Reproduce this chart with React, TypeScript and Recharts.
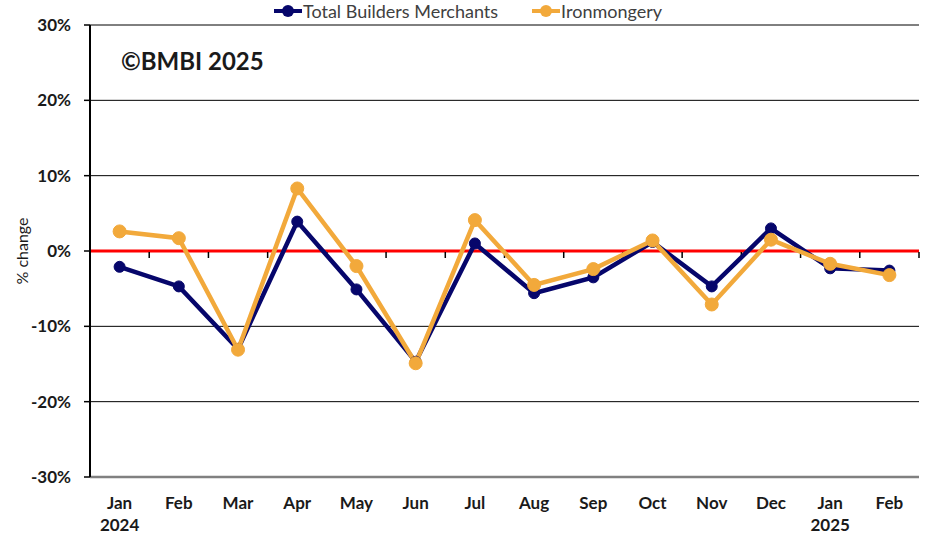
import React from 'react';
import { LineChart, Line, XAxis, YAxis, CartesianGrid, ReferenceLine } from 'recharts';

const months = ['Jan', 'Feb', 'Mar', 'Apr', 'May', 'Jun', 'Jul', 'Aug', 'Sep', 'Oct', 'Nov', 'Dec', 'Jan', 'Feb'];
const years = ['2024', '', '', '', '', '', '', '', '', '', '', '', '2025', ''];
const totalBuildersMerchants = [-2.1, -4.7, -13.0, 3.9, -5.1, -14.7, 1.0, -5.6, -3.5, 1.2, -4.7, 3.0, -2.3, -2.6];
const ironmongery = [2.6, 1.7, -13.1, 8.3, -2.0, -14.9, 4.1, -4.5, -2.4, 1.4, -7.1, 1.5, -1.7, -3.2];
const yTicks = [-30, -20, -10, 0, 10, 20, 30];

const NAVY = '#06066B';
const ORANGE = '#F2A93B';
const FONT = 'Lato, "Open Sans", sans-serif';

const data = months.map((m, i) => ({
  key: `${m}-${i}`,
  month: m,
  year: years[i],
  tbm: totalBuildersMerchants[i],
  iron: ironmongery[i],
}));

const XTick = (props: any) => {
  const { x, y, index } = props;
  const d = data[index];
  return (
    <g>
      <text x={x} y={y} dy={24} textAnchor="middle" fontFamily={FONT} fontWeight={700} fontSize={17} fill="#1a1a1a">
        {d ? d.month : ''}
      </text>
      {d && d.year ? (
        <text x={x} y={y} dy={46} textAnchor="middle" fontFamily={FONT} fontWeight={700} fontSize={17} fill="#1a1a1a">
          {d.year}
        </text>
      ) : null}
    </g>
  );
};

const YTick = (props: any) => {
  const { y, payload } = props;
  return (
    <text x={71} y={y} dy={6} textAnchor="end" fontFamily={FONT} fontWeight={700} fontSize={17} fill="#1a1a1a">
      {`${payload.value}%`}
    </text>
  );
};

const ZeroTicks = (props: any) => {
  const vb = props.viewBox || {};
  const n = data.length;
  const w = vb.width || 0;
  const marks = [];
  for (let i = 1; i <= n; i++) {
    const xx = vb.x + (w * i) / n;
    marks.push(<line key={i} x1={xx} x2={xx} y1={vb.y + 1} y2={vb.y + 7} stroke="#000" strokeWidth={1.5} />);
  }
  return <g>{marks}</g>;
};

const legendItems = [
  { label: 'Total Builders Merchants', color: NAVY },
  { label: 'Ironmongery', color: ORANGE },
];

const LegendBox = () => (
  <div
    style={{
      position: 'absolute',
      left: 0,
      top: 0,
      width: 936,
      display: 'flex',
      justifyContent: 'center',
      gap: 34,
      fontFamily: FONT,
      fontSize: 18,
      lineHeight: '22px',
      color: '#404040',
    }}
  >
    {legendItems.map((it) => (
      <div key={it.label} style={{ display: 'flex', alignItems: 'center' }}>
        <svg width={28} height={14} style={{ marginRight: 1 }}>
          <line x1={0} x2={28} y1={7} y2={7} stroke={it.color} strokeWidth={4} />
          <circle cx={14} cy={7} r={6} fill={it.color} />
        </svg>
        <span>{it.label}</span>
      </div>
    ))}
  </div>
);

export default function App() {
  return (
    <div style={{ position: 'absolute', left: 0, top: 0, width: 930, height: 536, background: '#fff' }}>
      <LineChart width={930} height={536} data={data} margin={{ top: 25, right: 11, bottom: 0, left: 0 }}>
        <CartesianGrid vertical={false} stroke="#000" strokeWidth={1} />
        <XAxis
          dataKey="key"
          scale="band"
          interval={0}
          height={59}
          tickLine={false}
          axisLine={{ stroke: '#808080', strokeWidth: 2.5 }}
          tick={<XTick />}
        />
        <YAxis
          width={90}
          domain={[-30, 30]}
          ticks={yTicks}
          interval={0}
          tickSize={6}
          tickLine={{ stroke: '#000', strokeWidth: 1.5 }}
          axisLine={{ stroke: '#000', strokeWidth: 2 }}
          tick={<YTick />}
          label={{ value: '% change', angle: -90, position: 'insideLeft', offset: 22, style: { fontFamily: FONT, fontSize: 16, fill: '#1a1a1a', textAnchor: 'middle' } }}
        />
        <ReferenceLine y={0} stroke="#FF0000" strokeWidth={3} label={<ZeroTicks />} />
        <Line
          type="linear"
          dataKey="tbm"
          name="Total Builders Merchants"
          stroke={NAVY}
          strokeWidth={4.5}
          dot={{ r: 5.5, fill: NAVY, stroke: NAVY, strokeWidth: 1 }}
          isAnimationActive={false}
        />
        <Line
          type="linear"
          dataKey="iron"
          name="Ironmongery"
          stroke={ORANGE}
          strokeWidth={4.5}
          dot={{ r: 6.5, fill: ORANGE, stroke: ORANGE, strokeWidth: 1 }}
          isAnimationActive={false}
        />
      </LineChart>
      <LegendBox />
      <div
        style={{
          position: 'absolute',
          left: 121,
          top: 46,
          fontFamily: FONT,
          fontWeight: 700,
          fontSize: 24,
          color: '#1a1a1a',
          whiteSpace: 'nowrap',
        }}
      >
        ©BMBI 2025
      </div>
    </div>
  );
}
